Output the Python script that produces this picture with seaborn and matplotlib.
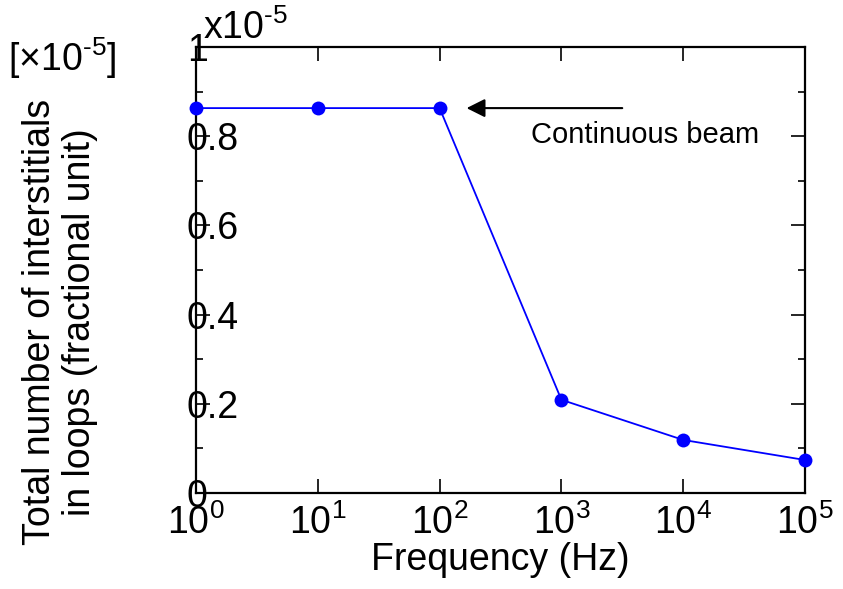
import matplotlib
matplotlib.use("Agg")
import matplotlib.pyplot as plt
import matplotlib.ticker as mticker
import seaborn as sns
import pandas as pd

# frequency (Hz) and interstitials in loops (units of 1e-5)
freq = [1, 10, 100, 1000, 10000, 100000]
loops = [0.863, 0.863, 0.863, 0.209, 0.119, 0.074]

sns.set_style("ticks")
plt.rcParams['font.family'] = ['Liberation Sans', 'DejaVu Sans']
plt.rcParams['mathtext.fontset'] = 'custom'
plt.rcParams['mathtext.rm'] = 'Liberation Sans'
plt.rcParams['mathtext.it'] = 'Liberation Sans'
plt.rcParams['text.color'] = 'black'
plt.rcParams['axes.labelcolor'] = 'black'
plt.rcParams['xtick.color'] = 'black'
plt.rcParams['ytick.color'] = 'black'

df = pd.DataFrame({"freq": freq, "loops": loops})

fig = plt.figure(figsize=(8.43, 5.89), dpi=100)
ax = fig.add_axes([196 / 843, 1 - 493 / 589, (805 - 196) / 843, (493 - 47) / 589])

sns.lineplot(data=df, x="freq", y="loops", ax=ax, color="#0000ff", lw=1.3,
             marker="o", markersize=10, markeredgewidth=0, markerfacecolor="#0000ff",
             clip_on=False, zorder=5)

ax.set_xscale("log")
ax.set_xlim(1, 1e5)
ax.set_ylim(0, 1)
ax.xaxis.set_major_locator(mticker.LogLocator(base=10, numticks=10))
ax.xaxis.set_minor_locator(mticker.NullLocator())
ax.yaxis.set_major_locator(mticker.MultipleLocator(0.2))
ax.yaxis.set_minor_locator(mticker.MultipleLocator(0.1))
ax.yaxis.set_major_formatter(mticker.FuncFormatter(lambda v, p: "%g" % round(v, 2)))

for s in ax.spines.values():
    s.set_linewidth(1.6)
    s.set_color("black")
ax.tick_params(which="both", direction="in", top=True, right=True, width=1.2,
               labelsize=27, colors="black")
ax.tick_params(which="major", length=10)
ax.tick_params(which="minor", length=5)
ax.tick_params(axis="x", pad=8)
ax.tick_params(axis="y", pad=6.5)
for t in ax.get_yticklabels():
    t.set_ha("left")

ax.set_xlabel("Frequency (Hz)", fontsize=27, labelpad=0, color="black")
ax.set_ylabel("")
fig.text(60 / 843, 1 - 322 / 589, "Total number of interstitials\nin loops (fractional unit)",
         rotation=90, ha="center", va="center", fontsize=27, multialignment="center",
         linespacing=1.12)
fig.text(62 / 843, 1 - 58 / 589, r"[$\times$10$^{\text{-5}}$]", ha="center", va="center", fontsize=27)
fig.text(203 / 843, 1 - 28 / 589, r"x10$^{\text{-5}}$", ha="left", va="center", fontsize=27)

ax.annotate("", xy=(158, 0.863), xytext=(3330, 0.863),
            arrowprops=dict(arrowstyle="-|>", color="black", lw=1.5, mutation_scale=28))
ax.text(4860, 0.803, "Continuous beam", ha="center", va="center", fontsize=21)

fig.savefig("out.png", dpi=100)
